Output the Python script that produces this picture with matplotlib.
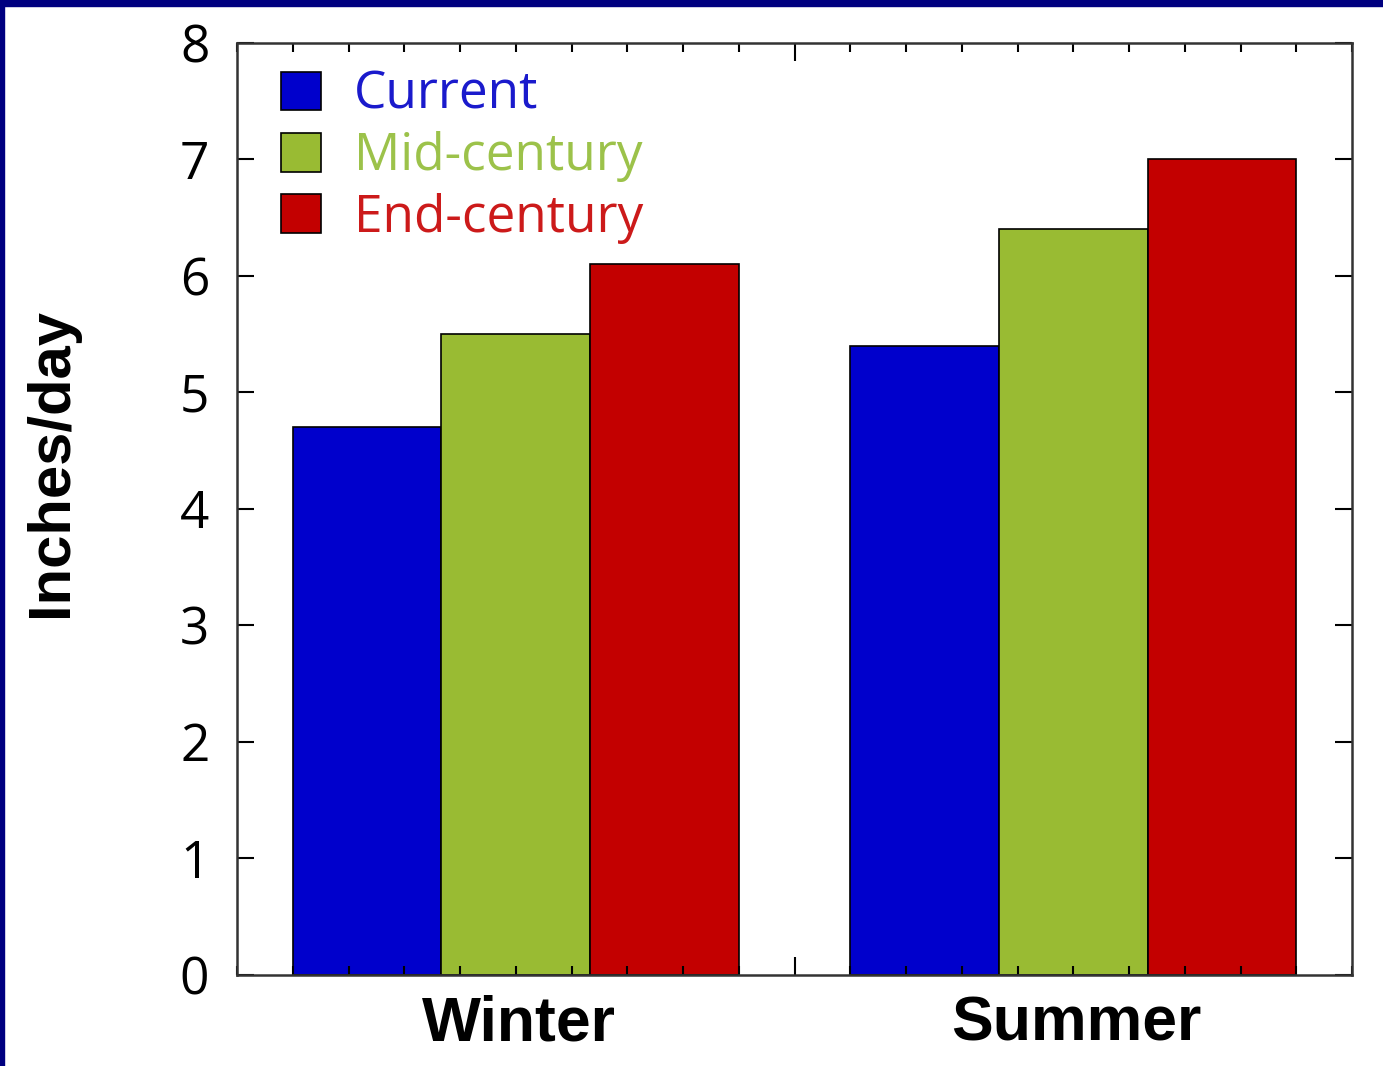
import matplotlib
matplotlib.use('Agg')
import matplotlib.pyplot as plt
from matplotlib.ticker import MultipleLocator, FixedLocator
from matplotlib.patches import Rectangle

# data
seasons = ['Winter', 'Summer']
series = ['Current', 'Mid-century', 'End-century']
current = [4.7, 5.4]
mid_century = [5.5, 6.4]
end_century = [6.1, 7.0]

bar_colors = ['#0000cc', '#99bb33', '#c30000']
text_colors = ['#1a1acc', '#9cc24a', '#cc1a1a']

fig = plt.figure(figsize=(13.83, 10.66), dpi=100)
ax = fig.add_axes([0.1714, 0.0854, 0.8062, 0.8743])

centers = [5, 15]
w = 8 / 3
for i, (vals, name) in enumerate(zip([current, mid_century, end_century], series)):
    xs = [c + (i - 1) * w for c in centers]
    ax.bar(xs, vals, width=w, color=bar_colors[i], edgecolor='black',
           linewidth=1.2, label=name)

ax.set_xlim(0, 20)
ax.set_ylim(0, 8)

for s in ax.spines.values():
    s.set_linewidth(1.8)
    s.set_color('#333333')

ax.xaxis.set_major_locator(FixedLocator([10]))
ax.xaxis.set_minor_locator(MultipleLocator(1))
ax.set_xticklabels([''])
ax.tick_params(axis='x', which='major', direction='in', length=13, width=1.5,
               top=True, bottom=True)
ax.tick_params(axis='x', which='minor', direction='in', length=6.5, width=1.5,
               top=True, bottom=True)

ax.yaxis.set_major_locator(MultipleLocator(1))
ax.tick_params(axis='y', which='major', direction='in', length=12, width=1.5,
               left=True, right=True, pad=20, labelsize=37)
for lab in ax.get_yticklabels():
    lab.set_fontfamily('Open Sans')

for c, name in zip(centers, seasons):
    ax.text(c + 0.05, -0.17, name, transform=ax.transData, ha='center', va='top',
            fontsize=45, fontweight='bold', family='Liberation Sans')

fig.text(52 / 1383, 1 - 463 / 1066, 'Inches/day', rotation=90, ha='center',
         va='center', fontsize=43, fontweight='bold', family='Liberation Sans')

leg = ax.legend(loc='upper left', bbox_to_anchor=(0.0395, 0.971), frameon=False,
                borderpad=0, borderaxespad=0, handlelength=0.78, handleheight=0.78,
                handletextpad=0.63, labelspacing=0.2,
                prop={'family': 'Open Sans', 'size': 37})
for t, col in zip(leg.get_texts(), text_colors):
    t.set_color(col)

# navy slide frame
fig.patches.append(Rectangle((0, 1 - 6 / 1066), 1, 6 / 1066, transform=fig.transFigure,
                             color='#000080', zorder=10))
fig.patches.append(Rectangle((0, 0), 4 / 1383, 1, transform=fig.transFigure,
                             color='#000080', zorder=10))

fig.savefig('out.png', dpi=100)
